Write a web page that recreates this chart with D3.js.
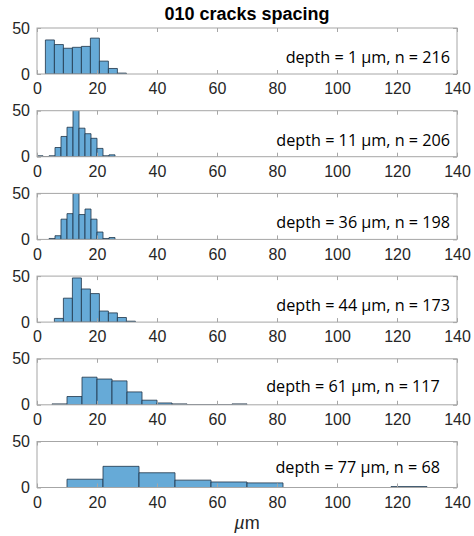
<!DOCTYPE html>
<html>
<head>
<meta charset="utf-8">
<script src="https://cdn.jsdelivr.net/npm/d3@7"></script>
<style>
  body { margin: 0; background: #fff; }
  svg { display: block; }
  .tick text { font-family: "Liberation Sans", Arial, sans-serif; font-size: 16px; fill: #262626; }
</style>
</head>
<body>
<svg id="chart" width="474" height="536"></svg>
<script>
// histogram data, one entry per depth
const depths   = [1, 11, 36, 44, 61, 77];
const nCounts  = [216, 206, 198, 173, 117, 68];
const binStart = [2.8, 0, 4, 5.8, 5, 10];
const binWidth = [3, 2, 2, 3, 5, 12];
const counts = [
  [37, 32, 28, 29, 30, 39, 14, 6, 1],
  [1, 0, 1, 10, 22, 32, 52, 31, 25, 20, 9, 1, 2],
  [1, 4, 22, 28, 50, 27, 33, 22, 8, 1, 2],
  [4, 26, 48, 36, 31, 12, 10, 5, 1],
  [1, 9, 30, 28, 26, 14, 5, 2, 1, 0, 0, 0, 1],
  [9, 23, 16, 8, 6, 5, 0, 0, 0, 1]
];
const xTicks = [0, 20, 40, 60, 80, 100, 120, 140];
const yTicks = [0, 50];

// layout
const left = 37, right = 457, top0 = 28, step = 82.7, panelH = 46;
// label anchor (data coords) per panel
const labelX = [137.7, 137.7, 137.7, 137.7, 134.3, 134.3];
const labelY = [12, 12, 12, 12, 14, 16];

const svg = d3.select("#chart");
const x = d3.scaleLinear().domain([0, 140]).range([left, right]);

svg.append("text")
  .attr("x", (left + right) / 2).attr("y", 20)
  .attr("text-anchor", "middle")
  .style("font-family", "'Liberation Sans', Arial, sans-serif")
  .style("font-size", "18px").style("font-weight", "bold")
  .attr("fill", "#000")
  .text("010 cracks spacing");

depths.forEach((depth, i) => {
  const top = top0 + i * step;
  const y = d3.scaleLinear().domain([0, 50]).range([top + panelH, top]);
  const g = svg.append("g");

  g.append("clipPath").attr("id", "clip" + i)
    .append("rect").attr("x", left).attr("y", top)
    .attr("width", right - left).attr("height", panelH);

  const bins = counts[i].map((c, k) => ({
    x0: binStart[i] + k * binWidth[i],
    x1: binStart[i] + (k + 1) * binWidth[i],
    c
  }));

  g.append("g").attr("clip-path", `url(#clip${i})`)
    .selectAll("path").data(bins).enter()
    .append("path")
    .attr("d", d => `M${x(d.x0)},${y(0)}V${y(d.c)}H${x(d.x1)}V${y(0)}Z`)
    .attr("fill", "#66aad7")
    .attr("stroke", "#1e3347")
    .attr("stroke-width", 0.8);

  // box
  g.append("rect")
    .attr("x", left).attr("y", top)
    .attr("width", right - left).attr("height", panelH)
    .attr("fill", "none").attr("stroke", "#a6a6a6").attr("stroke-width", 1);

  // x ticks (bottom with labels, top mirrored)
  const xb = g.append("g").attr("transform", `translate(0,${top + panelH})`)
    .call(d3.axisBottom(x).tickValues(xTicks).tickSize(-4).tickPadding(9));
  const xt = g.append("g").attr("transform", `translate(0,${top})`)
    .call(d3.axisTop(x).tickValues(xTicks).tickSize(-4).tickFormat(""));
  const yl = g.append("g").attr("transform", `translate(${left},0)`)
    .call(d3.axisLeft(y).tickValues(yTicks).tickSize(-4).tickPadding(7));
  const yr = g.append("g").attr("transform", `translate(${right},0)`)
    .call(d3.axisRight(y).tickValues(yTicks).tickSize(-4).tickFormat(""));
  [xb, xt, yl, yr].forEach(a => {
    a.select(".domain").remove();
    a.selectAll(".tick line").attr("stroke", "#a6a6a6");
  });
  xb.selectAll(".tick text").attr("dy", "0.71em");

  g.append("text")
    .attr("x", x(labelX[i])).attr("y", y(labelY[i]))
    .attr("text-anchor", "end")
    .style("font-family", "'Open Sans', sans-serif")
    .style("font-size", "16.2px")
    .attr("fill", "#000")
    .text(`depth = ${depth} \u00b5m, n = ${nCounts[i]}`);
});

svg.append("text")
  .attr("x", (left + right) / 2).attr("y", 529)
  .attr("text-anchor", "middle")
  .style("font-family", "'Liberation Sans', Arial, sans-serif")
  .style("font-size", "18px")
  .attr("fill", "#262626")
  .html('<tspan font-style="italic">\u00b5</tspan>m');
</script>
</body>
</html>
